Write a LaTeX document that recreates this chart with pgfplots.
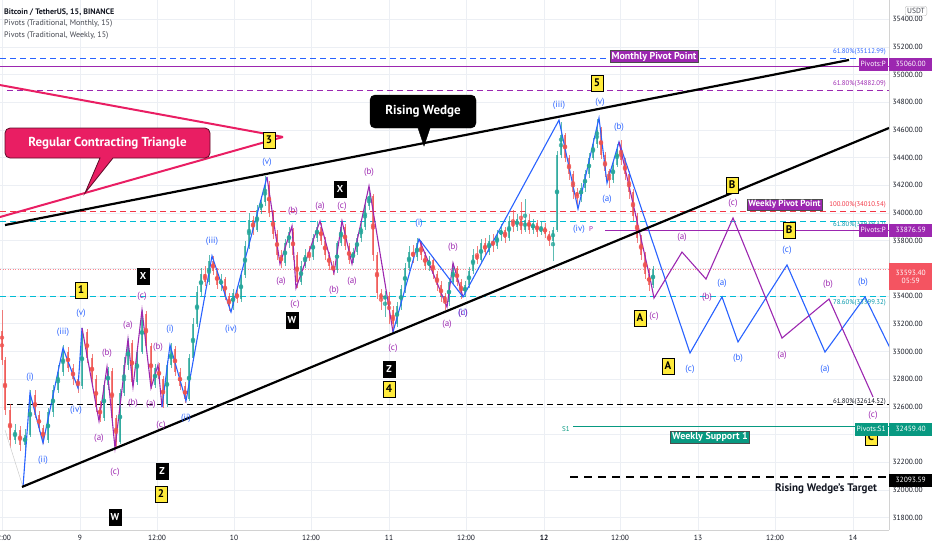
\documentclass[border=0pt]{standalone}
\usepackage{fontspec}
\setmainfont{PT Sans}
\usepackage{pgfplots}
\usepackage{pgfplotstable}
\pgfplotsset{compat=1.18}
\definecolor{tvblue}{HTML}{2962FF}
\definecolor{tvpurple}{HTML}{9C27B0}
\definecolor{tvpink}{HTML}{E91E63}
\definecolor{tvcyan}{HTML}{00BCD4}
\definecolor{tvteal}{HTML}{089981}
\definecolor{tvred}{HTML}{F23645}
\definecolor{cup}{HTML}{26A69A}
\definecolor{cdn}{HTML}{EF5350}
\definecolor{tvyellow}{HTML}{FFEB3B}
\definecolor{gridc}{HTML}{ECEFF4}
\definecolor{txt}{HTML}{131722}

% 15m candles, thinned: x in chart px, o h l c in USDT
\pgfplotstableread{
x o h l c
2 33150 33300 32900 32939
5 32939 32960 32540 32578
10 32578 32620 32300 32361
15 32361 32480 32330 32433
20 32433 32460 32280 32325
25 32325 32440 32290 32397
30 32397 32720 32380 32686
35 32686 32720 32520 32542
39 32542 32570 32420 32450
43 32450 32470 32330 32361
48 32361 32590 32340 32560
53 32560 32760 32530 32720
58 32720 32900 32700 32850
63 32850 33050 32820 33000
68 33000 33030 32850 32880
73 32880 32910 32760 32800
78 32800 32830 32700 32750
82 32750 33170 32730 33140
87 33140 33160 32920 32950
92 32950 32980 32760 32800
96 32800 32830 32560 32600
100 32600 32640 32490 32520
104 32520 32790 32500 32760
108 32760 32890 32720 32860
112 32860 32880 32480 32520
116 32520 32540 32300 32350
120 32350 32730 32330 32700
124 32700 32960 32680 32900
128 32900 33100 32870 33060
132 33060 33080 32750 32780
137 32780 33040 32760 33000
142 33000 33300 32980 33270
146 33270 33290 33000 33040
151 33040 33060 32730 32760
155 32760 32910 32740 32880
159 32880 32920 32770 32800
163 32800 32820 32590 32620
167 32620 32930 32600 32900
171 32900 33060 32880 33020
175 33020 33040 32820 32850
180 32850 32880 32720 32750
185 32750 32780 32630 32660
189 32660 32980 32640 32950
193 32950 33240 32930 33200
197 33200 33470 33180 33430
201 33430 33600 33400 33560
205 33560 33620 33470 33500
209 33500 33700 33480 33650
213 33650 33690 33550 33580
217 33580 33600 33450 33480
221 33480 33560 33440 33520
225 33520 33540 33370 33400
229 33400 33420 33290 33330
233 33330 33450 33300 33420
237 33420 33460 33350 33380
241 33380 33580 33360 33550
245 33550 33800 33530 33760
249 33760 34000 33740 33950
253 33950 33980 33840 33880
257 33880 34060 33860 34020
261 34020 34120 33990 34080
265 34080 34270 34050 34200
269 34200 34230 33970 34000
273 34000 34020 33810 33850
277 33850 33880 33660 33700
281 33700 33730 33600 33640
285 33640 33810 33620 33780
289 33780 33900 33750 33860
293 33860 33890 33660 33700
297 33700 33720 33460 33500
301 33500 33650 33480 33620
305 33620 33740 33600 33700
309 33700 33760 33650 33680
313 33680 33850 33660 33820
317 33820 33940 33790 33900
321 33900 33930 33770 33800
325 33800 33830 33660 33700
329 33700 33720 33590 33620
333 33620 33650 33550 33590
337 33590 33800 33570 33780
341 33780 33940 33760 33900
345 33900 33920 33730 33760
349 33760 33780 33630 33660
353 33660 33750 33640 33720
357 33720 33850 33700 33820
361 33820 33960 33790 33900
365 33900 34100 33880 34050
369 34050 34190 34020 34120
373 34120 34140 33650 33700
377 33700 33720 33380 33420
381 33420 33450 33300 33380
385 33380 33440 33250 33400
389 33400 33430 33200 33300
393 33300 33330 33140 33200
397 33200 33360 33180 33330
401 33330 33480 33300 33450
405 33450 33640 33420 33600
409 33600 33760 33580 33720
413 33720 33770 33640 33680
417 33680 33820 33650 33780
421 33780 33800 33660 33700
425 33700 33720 33590 33620
429 33620 33690 33580 33660
433 33660 33680 33520 33560
437 33560 33580 33440 33480
441 33480 33510 33360 33400
445 33400 33420 33300 33360
449 33360 33530 33330 33500
453 33500 33640 33480 33600
457 33600 33620 33470 33500
461 33500 33520 33380 33420
465 33420 33510 33390 33480
469 33480 33610 33460 33580
473 33580 33740 33560 33700
477 33700 33760 33630 33660
481 33660 33810 33640 33780
485 33780 33820 33690 33720
489 33720 33840 33700 33800
493 33800 33850 33720 33760
497 33760 33880 33740 33840
501 33840 33920 33800 33880
505 33880 33900 33780 33820
509 33820 33980 33800 33940
513 33940 34020 33860 33900
517 33900 33990 33870 33960
521 33960 34080 33850 33880
525 33880 34100 33860 33950
529 33950 33990 33850 33880
533 33880 33960 33850 33930
537 33930 33950 33830 33860
541 33860 33940 33840 33900
545 33900 33930 33820 33850
549 33850 33870 33760 33800
553 33800 33900 33650 33880
557 33880 34450 33860 34420
561 34420 34660 34400 34560
565 34560 34580 34370 34400
569 34400 34420 34240 34280
573 34280 34300 34100 34150
577 34150 34180 34060 34120
581 34120 34220 34080 34180
585 34180 34310 34150 34280
589 34280 34430 34250 34400
593 34400 34540 34380 34500
597 34500 34680 34470 34600
601 34600 34620 34390 34420
605 34420 34440 34260 34300
609 34300 34320 34180 34240
613 34240 34380 34220 34350
617 34350 34500 34330 34460
621 34460 34530 34350 34380
625 34380 34400 34240 34280
629 34280 34300 34100 34150
633 34150 34170 33940 33980
637 33980 34000 33780 33820
641 33820 33840 33660 33700
645 33700 33720 33520 33560
649 33560 33600 33440 33480
653 33480 33620 33460 33593
}\candles

\begin{document}
\begin{tikzpicture}[
  yb/.style={fill=tvyellow, draw=black, line width=0.8pt, inner sep=1pt, minimum width=12pt, minimum height=16pt, font=\bfseries\fontsize{11}{11}\selectfont},
  bb/.style={fill=black, text=white, inner sep=1pt, minimum width=13pt, minimum height=17pt, font=\bfseries\fontsize{10}{10}\selectfont},
  wb/.style={text=tvblue, inner sep=0pt, font=\fontsize{9}{9}\selectfont},
  wp/.style={text=tvpurple, inner sep=0pt, font=\fontsize{9}{9}\selectfont},
  fib/.style={anchor=east, inner sep=0pt, font=\fontsize{6.8}{7}\selectfont},
  tag/.style={text=white, inner sep=1.5pt, font=\bfseries\fontsize{10}{10}\selectfont},
  side/.style={anchor=west, text=white, minimum width=43pt, minimum height=13pt, inner sep=1pt, font=\fontsize{7.5}{8}\selectfont},
  sidel/.style={anchor=east, text=white, minimum height=13pt, inner sep=2pt, font=\fontsize{7.5}{8}\selectfont},
]
\begin{axis}[
  name=ax, at={(0,0)}, anchor=north west,
  scale only axis, width=889pt, height=530pt,
  xmin=0, xmax=889, ymin=31711, ymax=35538,
  axis x line*=bottom, axis y line*=right,
  axis line style={draw=gray!35, line width=0.6pt},
  major tick length=0pt,
  grid=major, major grid style={gridc, line width=0.6pt},
  scaled y ticks=false,
  ytick={31800,32000,32200,32600,32800,33000,33200,33400,33800,34000,34200,34400,34600,34800,35000,35200,35400},
  extra y ticks={32400,33600}, extra y tick labels={},
  xtick={2,80,157,234,311,389,466,544,620,698,775,853},
  xticklabels={12:00,9,12:00,10,12:00,11,12:00,{\bfseries 12},12:00,13,12:00,14},
  ticklabel style={font=\fontsize{7.5}{8}\selectfont, text=txt},
  xticklabel style={yshift=-2pt},
  yticklabel style={/pgf/number format/.cd, fixed, fixed zerofill, precision=2, 1000 sep={}, assume math mode=true},
]
% horizontal levels
\addplot[tvblue, line width=0.8pt, dash pattern=on 6pt off 4pt] coordinates {(0,35112.99) (889,35112.99)};
\addplot[tvpurple, line width=1.3pt] coordinates {(0,35060) (889,35060)};
\addplot[tvpurple, line width=0.9pt, dash pattern=on 6pt off 4pt] coordinates {(7,34882.09) (889,34882.09)};
\addplot[tvred, line width=0.8pt, dash pattern=on 6pt off 4pt] coordinates {(0,34010.54) (889,34010.54)};
\addplot[tvcyan, line width=0.9pt, dash pattern=on 6pt off 4pt] coordinates {(0,33942) (889,33942)};
\addplot[tvpurple, line width=1pt] coordinates {(605,33876.59) (889,33876.59)};
\addplot[tvred!60, line width=0.5pt, dotted] coordinates {(0,33593.4) (889,33593.4)};
\addplot[tvcyan, line width=0.9pt, dash pattern=on 6pt off 4pt] coordinates {(0,33399.32) (889,33399.32)};
\addplot[black, line width=0.9pt, dash pattern=on 6pt off 4pt] coordinates {(7,32614.52) (889,32614.52)};
\addplot[tvteal, line width=1pt] coordinates {(573,32459.4) (889,32459.4)};
\addplot[black, line width=1.6pt, dash pattern=on 8pt off 6pt] coordinates {(570,32093.59) (889,32093.59)};

% candles
\addplot[cup, opacity=0.75, only marks, mark=none, restrict x to domain=-10:900,
  error bars/.cd, y dir=both, y explicit, error mark=none, error bar style={draw=cup, line width=0.6pt}]
  table[x expr={\thisrow{x}+2000*(\thisrow{c}<\thisrow{o})}, y expr={(\thisrow{h}+\thisrow{l})/2}, y error expr={(\thisrow{h}-\thisrow{l})/2}] {\candles};
\addplot[cup, opacity=0.75, only marks, mark=none, restrict x to domain=-10:900,
  error bars/.cd, y dir=both, y explicit, error mark=none, error bar style={draw=cup, line width=2.6pt}]
  table[x expr={\thisrow{x}+2000*(\thisrow{c}<\thisrow{o})}, y expr={(\thisrow{o}+\thisrow{c})/2}, y error expr={abs(\thisrow{c}-\thisrow{o})/2}] {\candles};
\addplot[cdn, opacity=0.75, only marks, mark=none, restrict x to domain=-10:900,
  error bars/.cd, y dir=both, y explicit, error mark=none, error bar style={draw=cdn, line width=0.6pt}]
  table[x expr={\thisrow{x}+2000*(\thisrow{c}>\thisrow{o})}, y expr={(\thisrow{h}+\thisrow{l})/2}, y error expr={(\thisrow{h}-\thisrow{l})/2}] {\candles};
\addplot[cdn, opacity=0.75, only marks, mark=none, restrict x to domain=-10:900,
  error bars/.cd, y dir=both, y explicit, error mark=none, error bar style={draw=cdn, line width=2.6pt}]
  table[x expr={\thisrow{x}+2000*(\thisrow{c}>\thisrow{o})}, y expr={(\thisrow{o}+\thisrow{c})/2}, y error expr={abs(\thisrow{c}-\thisrow{o})/2}] {\candles};

% wave counts
\addplot[gray!40, line width=0.5pt] coordinates {(5,32433) (23,32022)};
\addplot[tvblue, line width=1.1pt] coordinates {(23,32022) (30,32700) (43,32339) (63,33025) (78,32736) (82,33170)};
\addplot[tvpurple, line width=1.1pt] coordinates {(82,33170) (99,32498) (107,32888) (115,32303) (128,33090) (133,32744) (142,33300) (151,32736) (158,32903) (162,32599)};
\addplot[tvblue, line width=1.1pt] coordinates {(162,32599) (170,33047) (186,32643) (212,33690) (231,33285) (267,34260)};
\addplot[tvpurple, line width=1.1pt] coordinates {(267,34260) (280,33632) (292,33906) (296,33458) (320,33942) (334,33567) (342,33942) (352,33632) (369,34195) (393,33141)};
\addplot[tvpurple, line width=1.1pt] coordinates {(419,33812) (447,33321) (453,33639) (463,33394)};
\addplot[tvblue, line width=1.1pt] coordinates {(393,33141) (419,33812) (463,33394) (559,34671) (578,34029) (599,34686) (607,34217) (619,34513) (690,32989) (722,33394) (738,33069) (787,33625) (825,32996) (865,33394) (890,33025)};
\addplot[tvpurple, line width=1.1pt] coordinates {(619,34513) (650,33530) (654,33386) (682,33718) (706,33523) (733,33964) (782,33097) (829,33379) (873,32672)};

% trend lines
\addplot[tvpink, line width=2pt] coordinates {(0,34924) (283,34549)};
\addplot[tvpink, line width=2pt] coordinates {(0,33971) (283,34549)};
\addplot[black, line width=2.2pt] coordinates {(5,33913) (849,35105)};
\addplot[black, line width=2.2pt] coordinates {(22,32022) (889,34614)};
\end{axis}

\begin{scope}[x=1pt, y=-1pt]
% chart title
\node[anchor=west, inner sep=0pt, text=txt, font=\bfseries\fontsize{8}{8}\selectfont] at (4,12) {Bitcoin / TetherUS, 15, BINANCE};
\node[anchor=west, inner sep=0pt, text=txt!80, font=\fontsize{8}{8}\selectfont] at (4,24) {Pivots (Traditional, Monthly, 15)};
\node[anchor=west, inner sep=0pt, text=txt!80, font=\fontsize{8}{8}\selectfont] at (4,36) {Pivots (Traditional, Weekly, 15)};

% callouts
\draw[fill=tvpink, draw=black!60!tvpink, line width=0.8pt]
  (5,143) [rounded corners=5pt] -- (5,128) -- (210,128) -- (210,158) [sharp corners] -- (113,158) -- (85,193) -- (100,158) [rounded corners=5pt] -- (5,158) [sharp corners] -- cycle;
\node[text=white, font=\bfseries\fontsize{13}{13}\selectfont] at (107.5,143) {Regular Contracting Triangle};
\draw[fill=black]
  (370,111) [rounded corners=5pt] -- (370,95) -- (476,95) -- (476,128) [sharp corners] -- (430,128) -- (424,146) -- (418,128) [rounded corners=5pt] -- (370,128) [sharp corners] -- cycle;
\node[text=white, font=\bfseries\fontsize{13}{13}\selectfont] at (423,111.5) {Rising Wedge};

\node[tag, fill=tvpurple, draw=black!70, line width=0.6pt] at (654,56.5) {Monthly Pivot Point};
\node[tag, fill=tvpurple, draw=black!70, line width=0.6pt, font=\bfseries\fontsize{9}{9}\selectfont] at (784.5,204.5) {Weekly Pivot Point};
\node[tag, fill=tvteal, draw=black!70, line width=0.6pt] at (710,437) {Weekly Support 1};
\node[text=txt, font=\bfseries\fontsize{11}{11}\selectfont] at (826,489) {Rising Wedge's Target};

% fib level texts
\node[fib, text=tvblue] at (886,52) {61.80\%(35112.99)};
\node[fib, text=tvpurple] at (886,84) {61.80\%(34882.09)};
\node[fib, text=tvred] at (886,205) {100.00\%(34010.54)};
\node[fib, text=tvcyan!80!black] at (886,225) {61.80\%(33939.32)};
\node[fib, text=tvcyan!80!black] at (886,303) {78.60\%(33399.32)};
\node[fib, text=txt] at (886,402) {61.80\%(32614.52)};
\node[inner sep=0pt, text=tvpurple, font=\fontsize{7}{7}\selectfont] at (591,229) {P};
\node[inner sep=0pt, text=tvteal, font=\fontsize{7}{7}\selectfont] at (566,429) {S1};

% wave labels
\foreach \x/\y/\t in {30/377/(i), 43/460/(ii), 63/332/(iii), 76/410/(iv), 81/313/(v),
  170/329/(i), 186/418/(ii), 212/241/(iii), 231/329/(iv), 267/162/(v),
  419/223/(i), 463/313/(ii), 559/105/(iii), 579/229/(iv), 600/102/(v), 607/199/(a), 619/127/(b),
  690/369/(c), 722/283/(a), 738/358/(b), 787/250/(c), 825/369/(a), 863/282/(b)}
  \node[wb] at (\x,\y) {\t};
\foreach \x/\y/\t in {99/438/(a), 107/353/(b), 115/472/(c), 128/325/(a), 133/403/(b), 142/296/(c), 151/404/(a), 158/347/(b), 161/425/(c),
  281/281/(a), 293/211/(b), 295/304/(c), 320/206/(a), 334/290/(b), 342/206/(c), 352/281/(a), 369/172/(b), 393/348/(c),
  447/324/(a), 453/247/(b), 463/313/(c),
  654/316/(c), 682/237/(a), 707/297/(b), 733/203/(c), 782/355/(a), 828/284/(b), 873/415/(c)}
  \node[wp] at (\x,\y) {\t};

% degree boxes
\foreach \x/\y/\t in {143/276/X, 115/517/W, 162/471/Z, 292/320/W, 340/189/X, 389/369/Z}
  \node[bb] at (\x,\y) {\t};
\foreach \x/\y/\t in {81/290/1, 161/494/2, 269/140/3, 389/389/4, 597/83/5, 640/318/A, 668/366/A, 732/185/B, 789/230/B, 871/437/C}
  \node[yb] at (\x,\y) {\t};

% price scale tags
\node[sidel, fill=tvpurple] at (888,64) {Pivots:P};
\node[side, fill=tvpurple] at (889,64) {35060.00};
\node[sidel, fill=tvpurple] at (888,230) {Pivots:P};
\node[side, fill=tvpurple] at (889,230) {33876.59};
\node[side, fill=tvred!85, minimum height=27pt, align=center] at (889,276.5) {33593.40\\05:59};
\node[sidel, fill=tvteal] at (888,429) {Pivots:S1};
\node[side, fill=tvteal] at (889,429) {32459.40};
\node[side, fill=black] at (889,480) {32093.59};
\node[draw=gray!50, fill=white, rounded corners=2pt, inner sep=2pt, text=txt!80, font=\fontsize{7.5}{8}\selectfont] at (916,11) {USDT};
\end{scope}
\pgfresetboundingbox
\path[use as bounding box] (0,0) rectangle (932pt,-550pt);
\end{tikzpicture}
\end{document}
